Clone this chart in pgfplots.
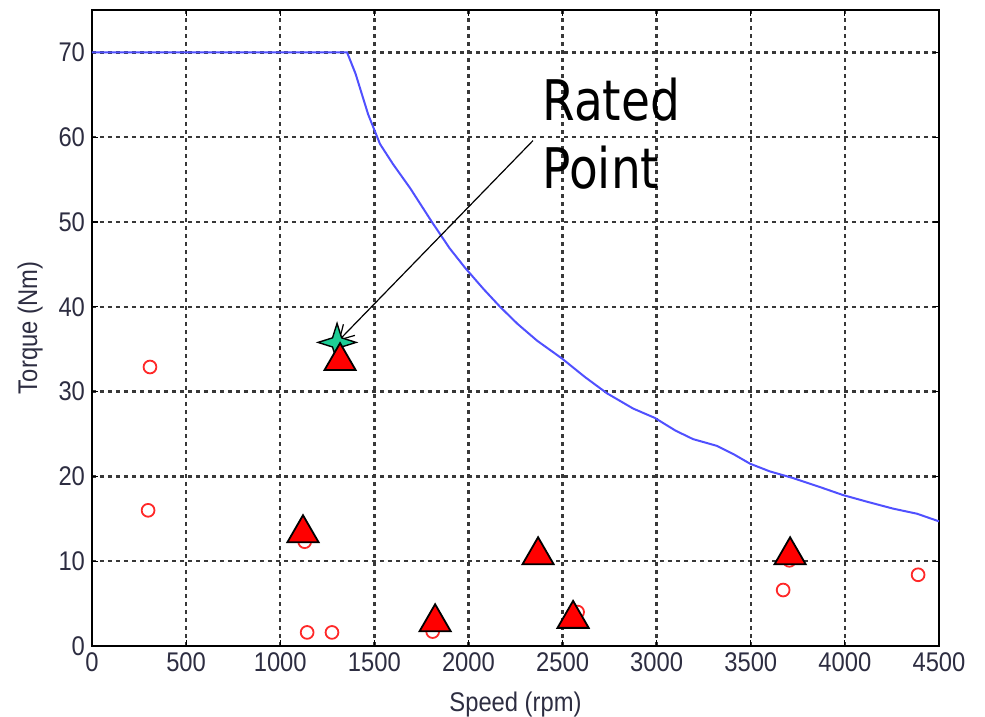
\documentclass[border=0pt]{standalone}
\usepackage{fontspec}
\usepackage{pgfplots}
\pgfplotsset{compat=1.18}
\usetikzlibrary{arrows.meta}
\setmainfont{Liberation Sans}
\newfontfamily\tickfont{Liberation Sans}[FakeStretch=0.88]
\newfontfamily\annfont{DejaVu Sans}[FakeStretch=0.84]
\definecolor{curveblue}{RGB}{80,80,255}
\definecolor{markred}{RGB}{255,40,40}
\definecolor{stargreen}{RGB}{30,205,150}
\definecolor{ticktext}{RGB}{45,45,65}

\pgfdeclareplotmark{fourstar}{%
  \pgfpathmoveto{\pgfpoint{0pt}{\pgfplotmarksize}}%
  \pgfpathlineto{\pgfpoint{0.24\pgfplotmarksize}{0.24\pgfplotmarksize}}%
  \pgfpathlineto{\pgfpoint{\pgfplotmarksize}{0pt}}%
  \pgfpathlineto{\pgfpoint{0.24\pgfplotmarksize}{-0.24\pgfplotmarksize}}%
  \pgfpathlineto{\pgfpoint{0pt}{-\pgfplotmarksize}}%
  \pgfpathlineto{\pgfpoint{-0.24\pgfplotmarksize}{-0.24\pgfplotmarksize}}%
  \pgfpathlineto{\pgfpoint{-\pgfplotmarksize}{0pt}}%
  \pgfpathlineto{\pgfpoint{-0.24\pgfplotmarksize}{0.24\pgfplotmarksize}}%
  \pgfpathclose
  \pgfusepathqfillstroke}

\begin{document}
\begin{tikzpicture}
\begin{axis}[scale only axis,width=423.5pt,height=318pt,
  xmin=0,xmax=4500,ymin=0,ymax=75,
  xtick={0,500,...,4500},ytick={0,10,...,70},
  scaled x ticks=false,
  xticklabel style={/pgf/number format/1000 sep={}},
  /pgf/number format/assume math mode=true,
  grid=major,
  major grid style={black!78,line width=1.2pt,dash pattern=on 2.2pt off 1.8pt},
  axis line style={black,line width=0.8pt},
  tick align=inside,major tick length=3pt,
  tick style={black,line width=0.6pt},
  tick label style={font=\tickfont\fontsize{13.5}{15}\selectfont,text=ticktext},
  label style={font=\tickfont\fontsize{13.5}{15}\selectfont,text=ticktext},
  xlabel={Speed (rpm)},ylabel={Torque (Nm)},
  xlabel style={yshift=-3pt},
  ylabel style={yshift=1pt},
  clip=false]
\coordinate (O) at (rel axis cs:0,0);
% torque limit curve
\addplot[curveblue,line width=1pt] coordinates {
  (0,70) (1355,70) (1400,67.5) (1467,62.7) (1530,59.2) (1600,56.8)
  (1690,54) (1806,50) (1900,46.9) (1982,44.6) (2080,42.1) (2168,40)
  (2260,38) (2365,36) (2497,33.9) (2620,31.7) (2736,29.8) (2875,28.0)
  (2990,26.9) (3100,25.4) (3193,24.4) (3320,23.6) (3410,22.6) (3496,21.5)
  (3600,20.6) (3725,19.8) (3860,18.8) (3990,17.8) (4120,17.0) (4256,16.2)
  (4383,15.6) (4500,14.7)};
% measured points
\addplot[only marks,mark=o,mark size=3.2pt,draw=markred,line width=0.9pt]
  coordinates {(308,32.9) (298,16.0) (1143,1.6) (1275,1.6) (3672,6.6)
  (4389,8.4) (1130,12.3) (1810,1.7) (3705,10.1) (2580,4.0) (1320,33.5)};
% rated point
\addplot[only marks,mark=fourstar,mark size=9.5pt,
  mark options={fill=stargreen,draw=black,line width=0.7pt}]
  coordinates {(1302,35.8)};
% operating points
\addplot[only marks,mark=triangle*,mark size=9pt,
  mark options={fill=red,draw=black,line width=0.9pt}]
  coordinates {(1318,33.6) (1121,13.3) (1823,2.8) (2370,10.7)
  (2556,3.2) (3709,10.7)};
\draw[black,line width=0.6pt,-{Straight Barb[length=7pt,width=8pt]}]
  (axis cs:2343,59.6) -- (axis cs:1310,36.0);
\node[anchor=base west,inner sep=0pt,font=\annfont\fontsize{28}{34}\selectfont]
  at (axis cs:2391,62.0) {Rated};
\node[anchor=base west,inner sep=0pt,font=\annfont\fontsize{28}{34}\selectfont]
  at (axis cs:2391,54.0) {Point};
\end{axis}
\pgfresetboundingbox
\path (O) ++(-46pt,-35.5pt) rectangle ++(492.5pt,358.5pt);
\end{tikzpicture}
\end{document}
